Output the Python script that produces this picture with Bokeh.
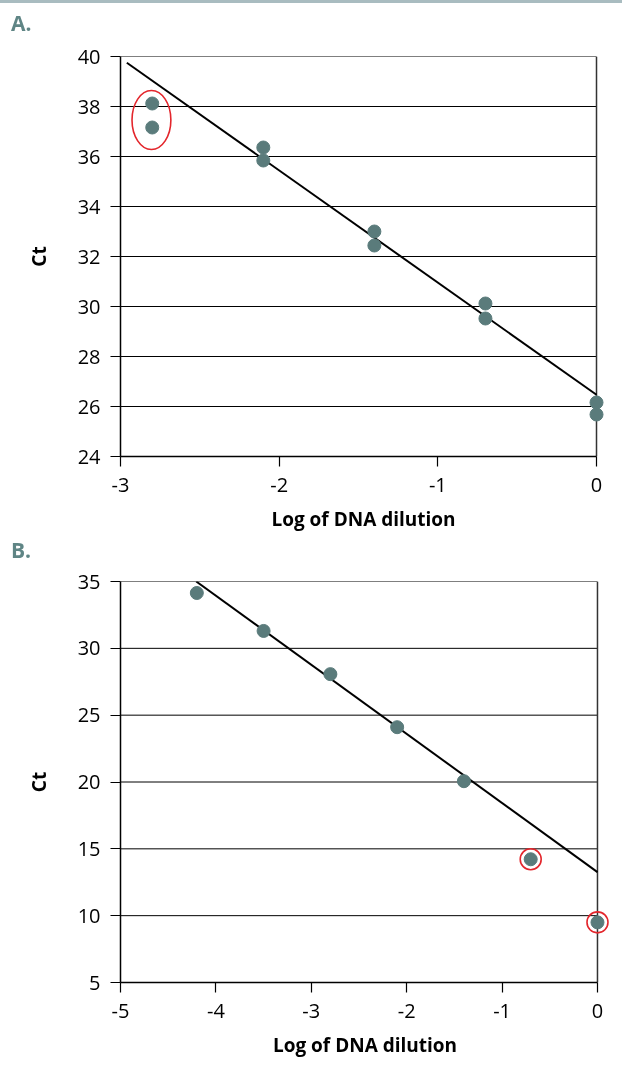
from bokeh.plotting import figure
from bokeh.layouts import column
from bokeh.models import Range1d, FixedTicker, Div, CustomJSTickFormatter
from bokeh.embed import file_html
from bokeh.resources import INLINE

# ---- data ----
a_x = [-2.8, -2.8, -2.1, -2.1, -1.4, -1.4, -0.7, -0.7, 0.0, 0.0]
a_ct = [38.12, 37.16, 36.36, 35.84, 33.0, 32.44, 30.12, 29.52, 26.16, 25.68]
a_fit_x = [-2.96, 0.0]
a_fit_y = [39.75, 26.47]
a_xticks = [-3, -2, -1, 0]
a_yticks = [24, 26, 28, 30, 32, 34, 36, 38, 40]
a_out_x = [-2.805]
a_out_y = [37.46]

b_x = [-4.2, -3.5, -2.8, -2.1, -1.4, -0.7, 0.0]
b_ct = [34.14, 31.3, 28.07, 24.1, 20.06, 14.22, 9.5]
b_fit_x = [-4.206, 0.0]
b_fit_y = [35.0, 13.26]
b_xticks = [-5, -4, -3, -2, -1, 0]
b_yticks = [5, 10, 15, 20, 25, 30, 35]
b_out_x = b_x[5:]
b_out_y = b_ct[5:]

FONT = "Open Sans"
PT = "#5a7b7b"
RED = "#e3262c"
LAB = "#5f8585"


def make(xticks, yticks, fw, fh, borders, x_end):
    x0, x1 = xticks[0], xticks[-1]
    y0, y1 = yticks[0], yticks[-1]
    p = figure(frame_width=fw, frame_height=fh, output_backend="svg", toolbar_location=None,
               x_range=Range1d(x0, x_end), y_range=Range1d(y0, y1),
               min_border_left=borders[0], min_border_right=borders[1],
               min_border_top=borders[2], min_border_bottom=borders[3])
    p.outline_line_color = None
    p.xgrid.visible = False
    p.ygrid.visible = False
    p.segment(x0=[x0] * len(yticks), x1=[x1] * len(yticks), y0=yticks, y1=yticks,
              line_color="black", line_width=1)
    p.segment(x0=[x1], x1=[x1], y0=[y0], y1=[y1], line_color="#333333", line_width=1.5)
    fmt = CustomJSTickFormatter(code="return tick.toFixed(0);")
    for ax in (p.xaxis[0], p.yaxis[0]):
        ax.axis_line_color = "black"
        ax.axis_line_width = 1.5
        ax.major_tick_line_color = "black"
        ax.major_tick_line_width = 1.2
        ax.major_tick_in = 0
        ax.major_tick_out = 10
        ax.minor_tick_line_color = None
        ax.major_label_text_font = FONT
        ax.major_label_text_font_size = "20px"
        ax.major_label_text_color = "black"
        ax.axis_label_text_font = FONT
        ax.axis_label_text_font_size = "19px"
        ax.axis_label_text_font_style = "bold"
        ax.axis_label_text_color = "black"
        ax.formatter = fmt
    p.xaxis.ticker = FixedTicker(ticks=xticks)
    p.yaxis.ticker = FixedTicker(ticks=yticks)
    p.xaxis.bounds = (x0, x1)
    p.xaxis.axis_label = "Log of DNA dilution"
    p.yaxis.axis_label = "Ct"
    p.xaxis.major_label_standoff = 11
    p.yaxis.major_label_standoff = 10
    p.xaxis.axis_label_standoff = 11
    p.yaxis.axis_label_standoff = 23
    return p


pA = make(a_xticks, a_yticks, 486, 400, (120, 16, 16, 83), 0.063)
pA.line(a_fit_x, a_fit_y, line_color="black", line_width=2)
pA.scatter(a_x, a_ct, size=13, fill_color=PT, line_color=PT)
pA.ellipse(x=a_out_x, y=a_out_y, width=0.245, height=2.36,
           fill_color=None, line_color=RED, line_width=1.6)

pB = make(b_xticks, b_yticks, 489, 401, (117, 16, 13, 92), 0.126)
pB.line(b_fit_x, b_fit_y, line_color="black", line_width=2)
pB.scatter(b_x, b_ct, size=13, fill_color=PT, line_color=PT)
pB.scatter(b_out_x, b_out_y, marker="circle", size=21, fill_color=None,
           line_color=RED, line_width=1.6)


def label_div(txt, pad_top, h):
    html = ("<div style=\"font-family:'Open Sans';font-weight:bold;font-size:21px;"
            "line-height:21px;color:%s;padding-top:%dpx;padding-left:11px;\">%s</div>"
            % (LAB, pad_top, txt))
    return Div(text=html, width=622, height=h, margin=0)


topline = Div(text="", width=0, height=0, margin=0,
              styles={"position": "fixed", "top": "0px", "left": "0px",
                      "width": "622px", "height": "3px", "background-color": "#a9bcc0"})

layout = column(topline, label_div("A.", 13, 40), pA, label_div("B.", 1, 29), pB, spacing=0)
open("out.html", "w").write(file_html(layout, INLINE))
